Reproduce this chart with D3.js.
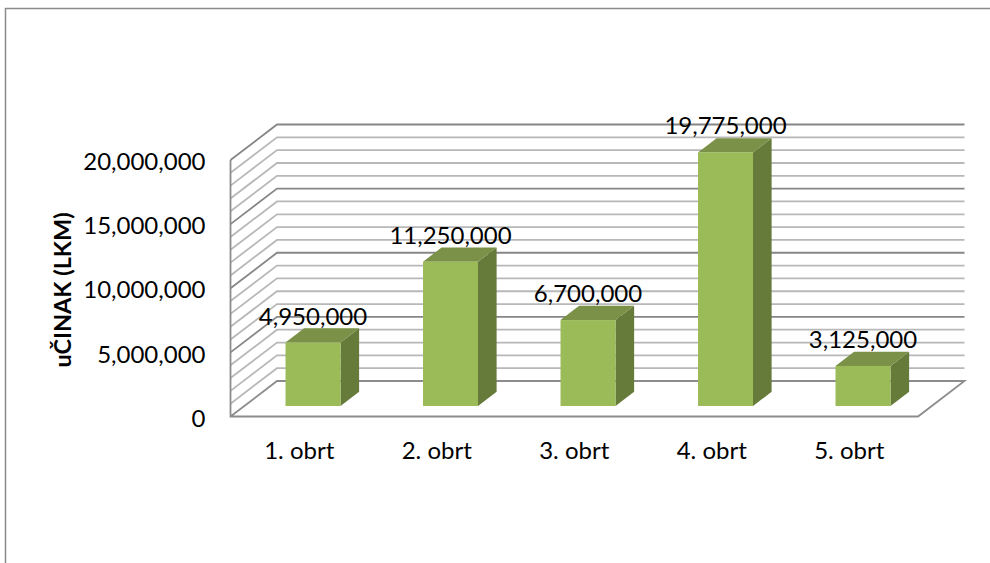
<!DOCTYPE html>
<html>
<head>
<meta charset="utf-8">
<script src="https://cdn.jsdelivr.net/npm/d3@7"></script>
<style>
  html, body { margin: 0; padding: 0; background: #fff; }
  svg { display: block; }
  text { font-family: Lato, "Open Sans", sans-serif; fill: #000; }
</style>
</head>
<body>
<div id="chart-area"></div>
<script>
var categories = ['1. obrt', '2. obrt', '3. obrt', '4. obrt', '5. obrt'];
var values = [4950000, 11250000, 6700000, 19775000, 3125000];
var yTicks = [0, 5000000, 10000000, 15000000, 20000000];
var gridValues = d3.range(0, 21).map(d => d * 1000000);
var yTitle = 'uČINAK (LKM)';

var width = 990;
var height = 563;

var svg = d3.select('#chart-area').append('svg')
  .attr('width', width)
  .attr('height', height);

// outer chart frame, only top and left are inside the picture
svg.append('path')
  .attr('d', 'M5.5,' + height + 'V8.5H' + width)
  .attr('fill', 'none')
  .attr('stroke', '#8a8a8a')
  .attr('stroke-width', 1.5);

// Set scales, front plane of the 3d box
var x = d3.scaleBand().domain(categories).range([230.5, 918]);
var y = d3.scaleLinear().domain([0, 20000000]).range([416.5, 160]);

// full depth of the box
var depthX = 46.5;
var depthY = -35.5;

// gridlines on both walls
gridValues.forEach(v => {
  var major = v % 5000000 == 0;
  var line = d3.path();
  if (v == 0) return;
  line.moveTo(x.range()[0], y(v));
  line.lineTo(x.range()[0] + depthX, y(v) + depthY);
  line.lineTo(x.range()[1] + depthX, y(v) + depthY);
  svg.append('path')
    .attr('d', line.toString())
    .attr('fill', 'none')
    .attr('stroke', major ? '#868686' : '#b8b8b8')
    .attr('stroke-width', major ? 1.8 : 1.8);
});

// floor and left edge
var floor = d3.path();
floor.moveTo(x.range()[0], y(20000000));
floor.lineTo(x.range()[0], y(0));
floor.lineTo(x.range()[1], y(0));
floor.lineTo(x.range()[1] + depthX, y(0) + depthY);
floor.lineTo(x.range()[0] + depthX, y(0) + depthY);
floor.lineTo(x.range()[0], y(0));
svg.append('path')
  .attr('d', floor.toString())
  .attr('fill', 'none')
  .attr('stroke', '#8c8c8c')
  .attr('stroke-width', 1.8);

// bars sit from 0.3 to 0.7 of the depth
var barWidth = x.bandwidth() * 0.4;
var offX = depthX * 0.296;
var offY = depthY * 0.296;
var barDepthX = depthX * 0.4;
var barDepthY = depthY * 0.4;

var bars = svg.selectAll('g.bar')
  .data(categories)
  .enter().append('g')
  .attr('class', 'bar');

bars.append('path')
  .attr('fill', '#667a3a')
  .attr('d', (d, i) => {
    var x1 = x(d) + x.bandwidth() / 2 + offX + barWidth / 2;
    return 'M' + x1 + ',' + (y(values[i]) + offY) +
      'l' + barDepthX + ',' + barDepthY +
      'V' + (y(0) + offY + barDepthY) +
      'l' + (-barDepthX) + ',' + (-barDepthY) + 'Z';
  });

bars.append('path')
  .attr('fill', '#7a9147')
  .attr('d', (d, i) => {
    var x0 = x(d) + x.bandwidth() / 2 + offX - barWidth / 2;
    return 'M' + x0 + ',' + (y(values[i]) + offY) +
      'l' + barDepthX + ',' + barDepthY +
      'h' + barWidth +
      'l' + (-barDepthX) + ',' + (-barDepthY) + 'Z';
  });

bars.append('rect')
  .attr('fill', '#9bbb59')
  .attr('x', d => x(d) + x.bandwidth() / 2 + offX - barWidth / 2)
  .attr('y', (d, i) => y(values[i]) + offY)
  .attr('width', barWidth)
  .attr('height', (d, i) => y(0) - y(values[i]));

// data labels
bars.append('text')
  .attr('x', d => x(d) + x.bandwidth() / 2 + offX)
  .attr('y', (d, i) => y(values[i]) + offY - 18)
  .attr('text-anchor', 'middle')
  .attr('font-size', 24)
  .text((d, i) => d3.format(',')(values[i]));

// Create axis
var yAxisCall = d3.axisLeft(y).tickValues(yTicks).tickSize(0).tickPadding(25).tickFormat(d3.format(','));
var xAxisCall = d3.axisBottom(x).tickSize(0).tickPadding(25);

var yAxis = svg.append('g')
  .attr('class', 'y-axis')
  .attr('transform', 'translate(230.5,2)')
  .call(yAxisCall);
var xAxis = svg.append('g')
  .attr('class', 'x-axis')
  .attr('transform', 'translate(0,416.5)')
  .call(xAxisCall);

svg.selectAll('.y-axis .domain, .x-axis .domain').remove();
svg.selectAll('.y-axis text, .x-axis text')
  .attr('font-size', 24)
  .style('font-family', 'Lato, sans-serif');

// axis title
svg.append('text')
  .attr('transform', 'translate(71,290) rotate(-90)')
  .attr('text-anchor', 'middle')
  .attr('font-size', 23.5)
  .attr('font-weight', 'bold')
  .text(yTitle);
</script>
</body>
</html>
